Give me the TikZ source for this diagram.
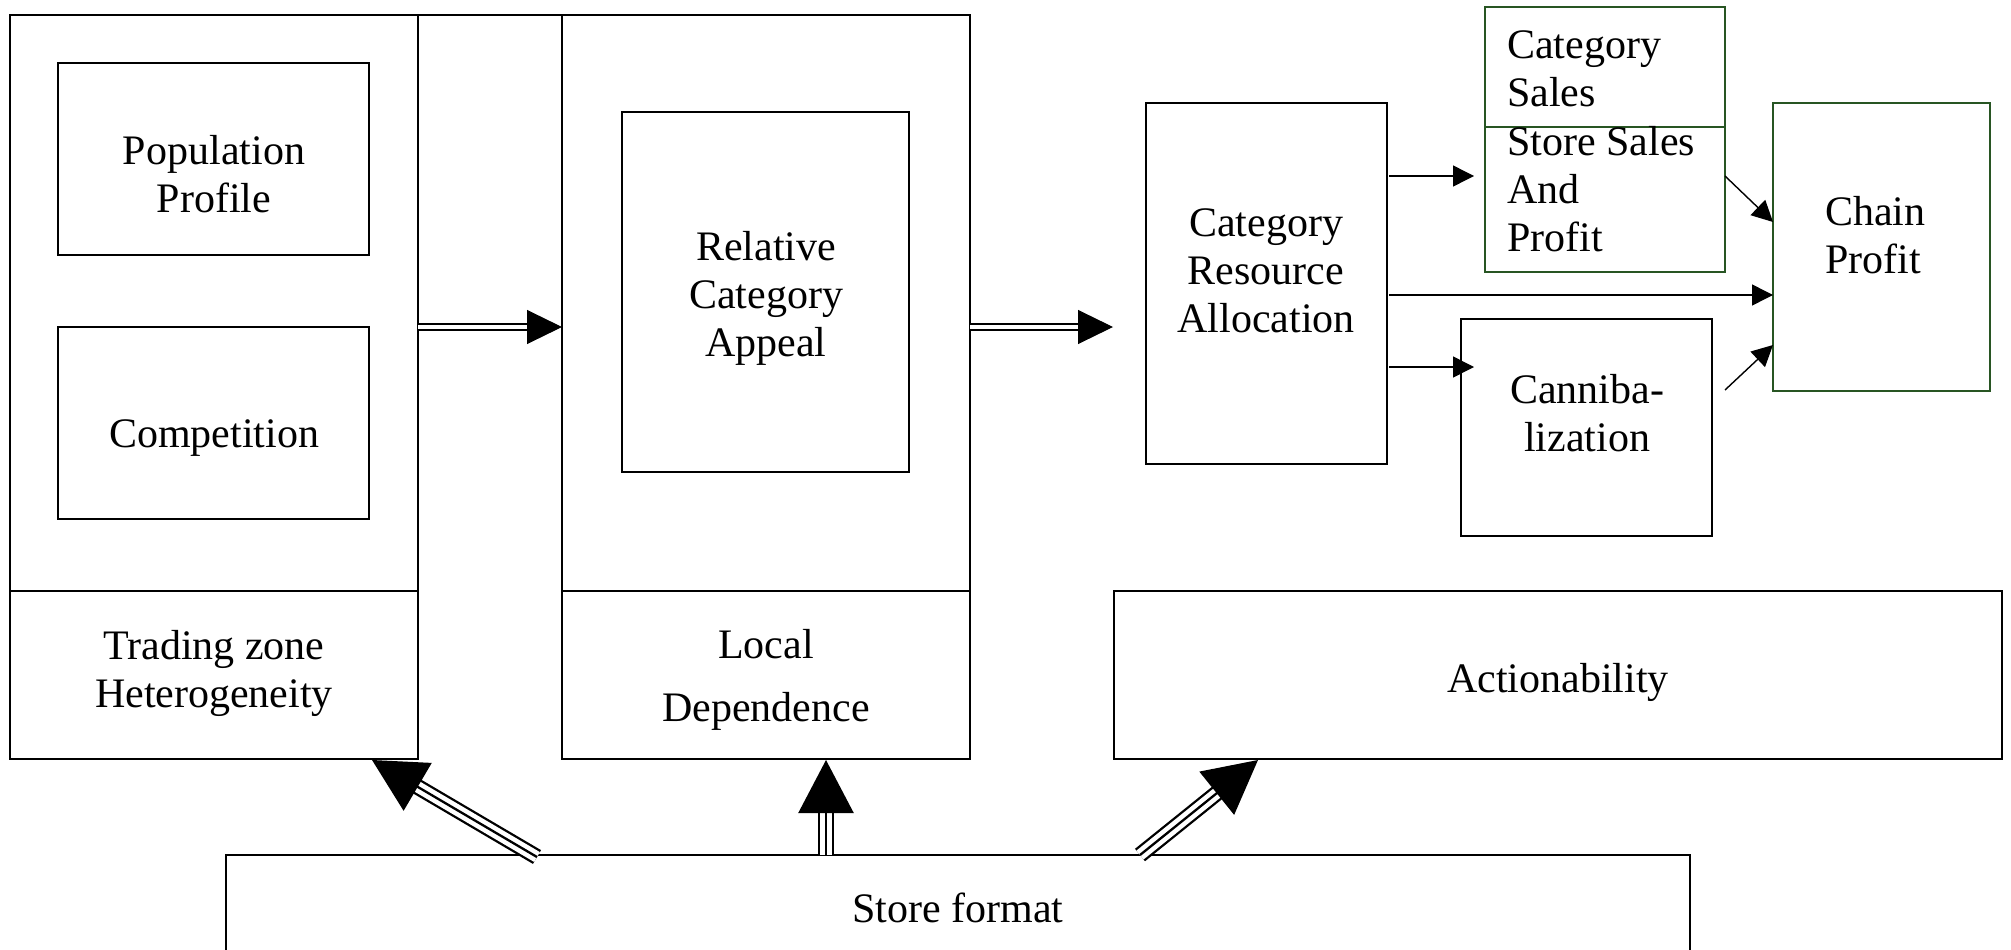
\documentclass[tikz,border=0pt]{standalone}
\usepackage{fontspec}
\setmainfont{Liberation Serif}
\usetikzlibrary{arrows.meta}
\definecolor{boxgreen}{RGB}{40,85,35}
\newcommand{\myDbl}[2]{%
  \draw[dblout] (#1) -- (#2);
  \draw[dblhead] (#1) -- (#2);
  \draw[dblin] (#1) -- (#2);}
\newcommand{\myTri}[2]{%
  \draw[triout] (#1) -- (#2);
  \draw[triin] (#1) -- (#2);
  \draw[trihead] (#1) -- (#2);}
\begin{document}
\begin{tikzpicture}[x=1pt,y=-1pt,
  box/.style={draw=black, line width=1.6pt, inner sep=0pt, outer sep=0pt, anchor=north west},
  gbox/.style={box, draw=boxgreen},
  txt/.style={font=\fontsize{42}{48}\selectfont, inner sep=0pt, align=center},
  ltxt/.style={txt, align=left, anchor=north west},
  tarrow/.style={line width=1.4pt, -{Triangle[length=21pt,width=21pt]}},
  dblout/.style={line width=7.5pt, shorten >=33pt},
  dblin/.style={line width=4.5pt, white, shorten >=35.5pt},
  dblhead/.style={line width=1pt, -{Triangle[length=35pt,width=34pt]}},
  triout/.style={line width=16pt, shorten >=50pt},
  triin/.style={line width=11.4pt, white, shorten >=49pt},
  trihead/.style={line width=2.3pt, -{Triangle[length=53pt,width=55pt]}},
]
\clip (0,0) rectangle (2011,950);

% boxes
\node[box, minimum width=408pt, minimum height=576pt] (lft) at (10,15) {};
\node[box, minimum width=408pt, minimum height=168pt] (tz) at (10,591) {};
\node[box, minimum width=311pt, minimum height=192pt] (pop) at (58,63) {};
\node[box, minimum width=311pt, minimum height=192pt] (comp) at (58,327) {};
\node[box, minimum width=408pt, minimum height=576pt] (mid) at (562,15) {};
\node[box, minimum width=408pt, minimum height=168pt] (ld) at (562,591) {};
\node[box, minimum width=287pt, minimum height=360pt] (rca) at (622,112) {};
\node[box, minimum width=241pt, minimum height=361pt] (cra) at (1146,103) {};
\node[gbox, minimum width=240pt, minimum height=120pt] (cs) at (1485,7) {};
\node[gbox, minimum width=240pt, minimum height=145pt] (ss) at (1485,127) {};
\node[gbox, minimum width=217pt, minimum height=288pt] (chain) at (1773,103) {};
\node[box, minimum width=251pt, minimum height=217pt] (can) at (1461,319) {};
\node[box, minimum width=888pt, minimum height=168pt] (act) at (1114,591) {};
\node[box, minimum width=1464pt, minimum height=140pt] (sf) at (226,855) {};
\draw[line width=1.6pt] (lft.north east) -- (mid.north west);

% texts
\node[txt, anchor=north] (popt) at (214,135) {Population\\Profile};
\node[txt, anchor=base] (compt) at (214,447) {Competition};
\node[txt, anchor=north] (tzt) at (214,630) {Trading zone\\Heterogeneity};
\node[txt, anchor=north] (rcat) at (766,231) {Relative\\Category\\Appeal};
\node[txt, anchor=north] (ldt) at (766,629) {Local\\[15pt]Dependence};
\node[txt, anchor=north] (crat) at (1266,208) {Category\\Resource\\Allocation};
\node[ltxt] (cst) at (1507,30) {Category\\Sales};
\node[ltxt] (sst) at (1507,126) {Store Sales\\And\\Profit};
\node[ltxt] (chaint) at (1825,196) {Chain\\Profit};
\node[txt, anchor=north] (cant) at (1587,374) {Canniba-\\lization};
\node[txt, anchor=base] (actt) at (1558,692) {Actionability};
\node[txt, anchor=base] (sft) at (958,922) {Store format};

% thin arrows
\coordinate (a1s) at (1389,176);
\coordinate (a1e) at (1474,176);
\coordinate (a2s) at (1389,295);
\coordinate (a3s) at (1389,367);
\coordinate (a3e) at (1474,367);
\coordinate (a4s) at (1725,176);
\coordinate (a4e) at (1773,222);
\coordinate (a5s) at (1725,390);
\coordinate (a5e) at (1773,345);
\draw[tarrow] (a1s) -- (a1e);
\draw[tarrow] (a2s) -- (chain.west |- a2s);
\draw[tarrow] (a3s) -- (a3e);
\draw[tarrow] (a4s) -- (a4e);
\draw[tarrow] (a5s) -- (a5e);

% double arrows
\coordinate (d1s) at (418,327);
\coordinate (d1e) at (562,327);
\coordinate (d2s) at (970,327);
\coordinate (d2e) at (1113,327);
\myDbl{d1s}{d1e}
\myDbl{d2s}{d2e}

% triple arrows
\coordinate (t1s) at (537,857);
\coordinate (t1e) at (372,760);
\coordinate (t2s) at (826,855);
\coordinate (t2e) at (826,760);
\coordinate (t3s) at (1140,855);
\coordinate (t3e) at (1258,760);
\myTri{t1s}{t1e}
\myTri{t2s}{t2e}
\myTri{t3s}{t3e}
\end{tikzpicture}
\end{document}
